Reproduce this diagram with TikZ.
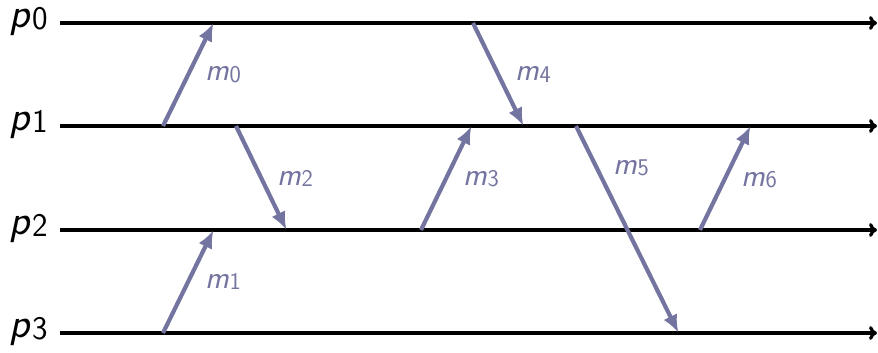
\documentclass[tikz,border=0pt]{standalone}
\usetikzlibrary{arrows.meta}
\definecolor{msgc}{RGB}{116,116,160}
\newcommand{\plbl}[2]{{\fontsize{42}{46}\selectfont\sffamily\itshape #1\/}\kern1pt\raisebox{-0.2em}{\fontsize{33}{36}\selectfont\sffamily #2}}
\newcommand{\mlbl}[2]{{\fontsize{32}{36}\selectfont\sffamily\itshape #1\/}\kern0.5pt\raisebox{-0.18em}{\fontsize{24}{28}\selectfont\sffamily #2}}
\begin{document}
\begin{tikzpicture}[x=1pt,y=-1pt,
  timeline/.style={draw=black,line width=3.2pt,-{To[length=8pt,width=14pt]}},
  msg/.style={draw=msgc,line width=4.2pt,-{Latex[length=18pt,width=15pt]},shorten >=-1pt},
  plabel/.style={anchor=base west,inner sep=0pt,text=black},
  mlabel/.style={anchor=base west,inner sep=0pt,text=msgc}]
\useasboundingbox (0,0) rectangle (878,353);
% process labels
\node[plabel] (P0) at (9,28) {\plbl{p}{0}};
\node[plabel] (P1) at (9,130) {\plbl{p}{1}};
\node[plabel] (P2) at (9,234) {\plbl{p}{2}};
\node[plabel] (P3) at (9,337) {\plbl{p}{3}};
% timeline ends
\coordinate (s0) at (60,23);  \coordinate (e0) at (877,23);
\coordinate (s1) at (60,126); \coordinate (e1) at (877,126);
\coordinate (s2) at (60,230); \coordinate (e2) at (877,230);
\coordinate (s3) at (60,333); \coordinate (e3) at (877,333);
\draw[timeline] (s0) -- (e0);
\draw[timeline] (s1) -- (e1);
\draw[timeline] (s2) -- (e2);
\draw[timeline] (s3) -- (e3);
% message endpoints
\coordinate (a0) at (163,126); \coordinate (b0) at (213,24);
\coordinate (a1) at (163,333); \coordinate (b1) at (213,231);
\coordinate (a2) at (236,126); \coordinate (b2) at (286,229);
\coordinate (a3) at (421,230); \coordinate (b3) at (471,127);
\coordinate (a4) at (473,23);  \coordinate (b4) at (523,125);
\coordinate (a5) at (576,126); \coordinate (b5) at (678,332);
\coordinate (a6) at (700,230); \coordinate (b6) at (750,127);
\draw[msg] (a0) -- (b0);
\draw[msg] (a1) -- (b1);
\draw[msg] (a2) -- (b2);
\draw[msg] (a3) -- (b3);
\draw[msg] (a4) -- (b4);
\draw[msg] (a5) -- (b5);
\draw[msg] (a6) -- (b6);
% message labels
\node[mlabel] (M0) at (205,81) {\mlbl{m}{0}};
\node[mlabel] (M1) at (205,288) {\mlbl{m}{1}};
\node[mlabel] (M2) at (277,185) {\mlbl{m}{2}};
\node[mlabel] (M3) at (463,185) {\mlbl{m}{3}};
\node[mlabel] (M4) at (515,81) {\mlbl{m}{4}};
\node[mlabel] (M5) at (613,174) {\mlbl{m}{5}};
\node[mlabel] (M6) at (741,186) {\mlbl{m}{6}};
\end{tikzpicture}
\end{document}
